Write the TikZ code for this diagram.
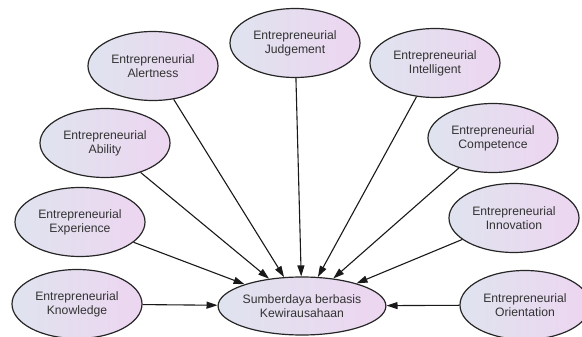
\documentclass[tikz,border=0pt]{standalone}
\usepackage{fontspec}
\setmainfont{Liberation Sans}
\usetikzlibrary{arrows.meta,shapes.geometric}
\definecolor{fillL}{HTML}{DFE3EF}
\definecolor{fillR}{HTML}{EDD6F0}
\definecolor{txt}{HTML}{333333}
\begin{document}
\begin{tikzpicture}[x=1pt,y=-1pt,
  var/.style={ellipse,draw=black!85,line width=1.2pt,left color=fillL,right color=fillR,
    minimum width=130pt,minimum height=69pt,inner sep=0pt,align=center,
    text=txt,font=\fontsize{12.2}{14}\selectfont},
  link/.style={-{Triangle[length=11pt,width=7pt]},line width=1.1pt,black!90}]
\useasboundingbox (0,0) rectangle (582,337);
\node[var] (alert) at (153,66) {Entrepreneurial\\Alertness};
\node[var] (judge) at (295,43) {Entrepreneurial\\Judgement};
\node[var] (intel) at (435,63) {Entrepreneurial\\Intelligent};
\node[var] (abil) at (105,143) {Entrepreneurial\\Ability};
\node[var] (comp) at (493,138) {Entrepreneurial\\Competence};
\node[var] (exper) at (80,222) {Entrepreneurial\\Experience};
\node[var] (innov) at (514,218) {Entrepreneurial\\Innovation};
\node[var] (know) at (77,304) {Entrepreneurial\\Knowledge};
\node[var] (orient) at (525,305) {Entrepreneurial\\Orientation};
\node[var,minimum height=58pt] (center) at (302,306) {Sumberdaya berbasis\\Kewirausahaan};
\foreach \s in {alert,judge,intel,abil,comp,exper,innov,know,orient}
  \draw[link] (\s) -- (center);
\end{tikzpicture}
\end{document}
